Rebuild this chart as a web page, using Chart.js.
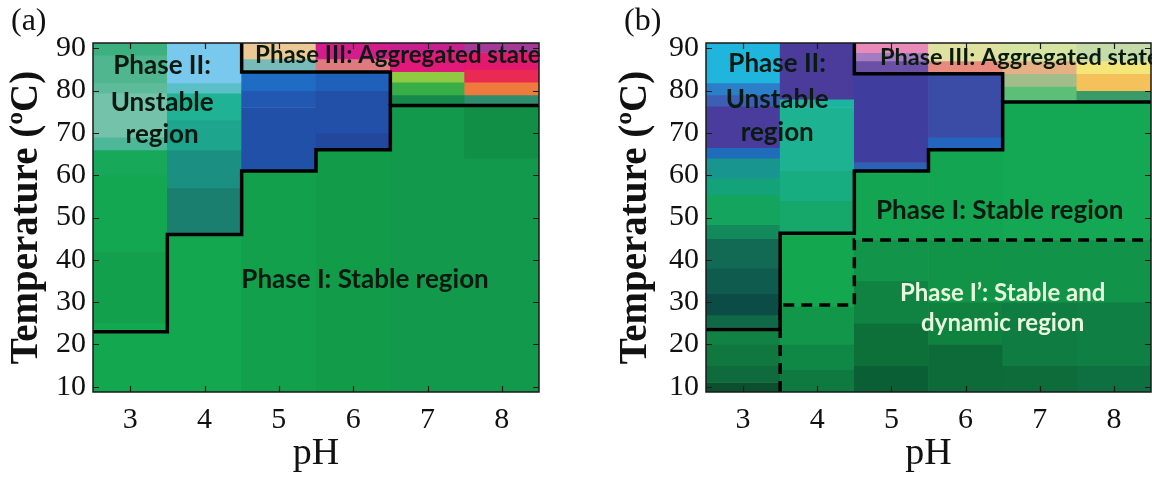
<!DOCTYPE html>
<html><head><meta charset="utf-8">
<script src="https://cdn.jsdelivr.net/npm/chart.js@4.4.1/dist/chart.umd.min.js"></script>
<style>
html,body{margin:0;padding:0;background:#fff;width:1152px;height:477px;overflow:hidden}
.p{position:absolute;top:0;width:576px;height:477px}
</style></head><body>
<div class="p" style="left:0"><canvas id="ca" width="576" height="477"></canvas></div>
<div class="p" style="left:576px"><canvas id="cb" width="576" height="477"></canvas></div>
<script>
// ---- data ----
const pH = [3, 4, 5, 6, 7, 8];
const xTicks = [3, 4, 5, 6, 7, 8];
const yTicks = [10, 20, 30, 40, 50, 60, 70, 80, 90];
const T_MIN = 8.75, T_MAX = 91.25, PH_MIN = 2.5, PH_MAX = 8.5;

// heat-map columns: [T low, T high, colour] per pH
const a3 = [[8.75,25,'#13a850'],[25,42,'#12a04c'],[42,60,'#14a752'],[60,66,'#18a85a'],[66,69,'#4db79a'],[69,79.4,'#74c2aa'],[79.4,81.8,'#5dbb9c'],[81.8,88.4,'#4fb690'],[88.4,91.25,'#3cb07e']];
const a4 = [[8.75,46,'#13a850'],[46,57,'#1a7f6f'],[57,66,'#1c8f83'],[66,73,'#1ea58e'],[73,79.4,'#1fb294'],[79.4,81.8,'#5bbfc8'],[81.8,91.25,'#79c8ee']];
const a5 = [[8.75,61,'#13a04d'],[61,64,'#1f52a6'],[64,76,'#2150a8'],[76,80,'#2258b2'],[80,84.4,'#1f6cc4'],[84.4,87.5,'#78bbb9'],[87.5,91.25,'#ebc995']];
const a6 = [[8.75,66,'#129b49'],[66,70,'#22489e'],[70,80,'#2250a8'],[80,84.4,'#1e60ba'],[84.4,87.5,'#de7a80'],[87.5,91.25,'#d41d8c']];
const a7 = [[8.75,76.5,'#13994b'],[76.5,79,'#168a4c'],[79,82,'#38ae48'],[82,84.5,'#8ecb42'],[84.5,89,'#e2187a'],[89,91.25,'#c81f8f']];
const a8 = [[8.75,64,'#13994b'],[64,76.5,'#128f47'],[76.5,79,'#2f8c6c'],[79,82,'#ee7b3d'],[82,85,'#ea2a52'],[85,89,'#e3196f'],[89,91.25,'#a33a97']];

const b3 = [[8.75,11,'#0b4f2f'],[11,15,'#0f6a3c'],[15,20,'#10773f'],[20,24,'#118244'],[24,27,'#0f6846'],[27,32,'#0c4c46'],[32,38,'#0f5b4e'],[38,45,'#126a55'],[45,48.3,'#138a5c'],[48.3,55.4,'#14a45e'],[55.4,59.3,'#14a27a'],[59.3,64,'#17958e'],[64,66.5,'#1f6cbb'],[66.5,76.3,'#4a3c9c'],[76.3,79,'#3c5fb5'],[79,81.8,'#2a7fc8'],[81.8,91.25,'#1fb5dc']];
const b4 = [[8.75,14,'#0e7a40'],[14,20,'#108845'],[20,29,'#11964a'],[29,46,'#13a750'],[46,54,'#15a86a'],[54,61,'#17ad80'],[61,76,'#1db392'],[76,78,'#1cb3a0'],[78,91.25,'#4b3c9c']];
const b5 = [[8.75,15,'#0b5f34'],[15,25,'#0e7039'],[25,35,'#108342'],[35,44.7,'#12954a'],[44.7,61,'#14a552'],[61,63,'#2a62b5'],[63,84,'#3f3d9e'],[84,87,'#6a51a6'],[87,89,'#a57cc1'],[89,91.25,'#e98ab8']];
const b6 = [[8.75,20,'#0d6b39'],[20,30,'#10823f'],[30,44.7,'#129448'],[44.7,66,'#14a552'],[66,69,'#2266bf'],[69,84,'#3b4ca7'],[84,87,'#e88a7e'],[87,91.25,'#dfe1a0']];
const b7 = [[8.75,15,'#0d6c3a'],[15,30,'#0f7c41'],[30,44.7,'#12934a'],[44.7,77.3,'#14a854'],[77.3,81,'#5cbf78'],[81,84,'#a2bd8a'],[84,87,'#e5b084'],[87,91.25,'#d6e4a2']];
const b8 = [[8.75,15,'#0e7040'],[15,30,'#107f43'],[30,44.7,'#12934a'],[44.7,77.3,'#14a854'],[77.3,80,'#3a9a68'],[80,84,'#f4c15a'],[84,87,'#f5e67a'],[87,91.25,'#c5dcaa']];

// phase boundaries (pH, T)
const aSolid1 = [[2.5,23],[3.5,23],[3.5,46],[4.5,46],[4.5,61],[5.5,61],[5.5,66],[6.5,66],[6.5,76.5],[8.5,76.5]];
const aSolid2 = [[4.5,91.25],[4.5,84.4],[6.5,84.4],[6.5,76.5]];
const bSolid1 = [[2.5,23.5],[3.5,23.5],[3.5,46.3],[4.5,46.3],[4.5,61],[5.5,61],[5.5,66],[6.5,66],[6.5,77.3],[8.5,77.3]];
const bSolid2 = [[4.5,91.25],[4.5,84],[6.5,84],[6.5,77.3]];
const bDashed = [[3.5,8.75],[3.5,29.3],[4.5,29.3],[4.5,44.7],[8.5,44.7]];

// annotation texts
const aTexts = [
  {t:'Phase II:', x:3.43, y:85.8, c:'#0b1a10', s:26},
  {t:'Unstable', x:3.43, y:77.1, c:'#0b1a10', s:26},
  {t:'region', x:3.43, y:69.5, c:'#0b1a10', s:26},
  {t:'Phase III: Aggregated state', x:6.60, y:88.4, c:'#0b1a10', s:24},
  {t:'Phase I: Stable region', x:6.16, y:35.2, c:'#0b1a10', s:26}
];
const bTexts = [
  {t:'Phase II:', x:3.46, y:86.3, c:'#0b1a10', s:26},
  {t:'Unstable', x:3.46, y:77.8, c:'#0b1a10', s:26},
  {t:'region', x:3.46, y:70.0, c:'#0b1a10', s:26},
  {t:'Phase III: Aggregated state', x:6.73, y:87.9, c:'#0b1a10', s:23.5},
  {t:'Phase I: Stable region', x:6.46, y:51.7, c:'#0b1a10', s:26},
  {t:'Phase I\u2019: Stable and', x:6.50, y:32.1, c:'#e8f6dc', s:24},
  {t:'dynamic region', x:6.50, y:25.0, c:'#e8f6dc', s:24}
];

// ---- drawing ----
const SERIF = '"Liberation Serif", "Times New Roman", serif';
const SANS = 'Lato, "Open Sans", sans-serif';

const decor = {
  id: 'decor',
  afterDatasetsDraw(chart, args, o) {
    const {ctx, chartArea: ca, scales: {x, y}} = chart;
    ctx.save();
    ctx.textAlign = 'center';
    ctx.textBaseline = 'middle';
    o.texts.forEach(d => {
      ctx.font = 'bold ' + d.s + 'px ' + SANS;
      ctx.fillStyle = d.c;
      ctx.fillText(d.t, x.getPixelForValue(d.x), y.getPixelForValue(d.y));
    });
    ctx.strokeStyle = '#1a1a1a';
    ctx.lineWidth = 1.5;
    ctx.strokeRect(ca.left, ca.top, ca.right - ca.left, ca.bottom - ca.top);
    ctx.lineWidth = 1.2;
    ctx.beginPath();
    xTicks.forEach(v => {
      const px = Math.round(x.getPixelForValue(v)) + 0.5;
      ctx.moveTo(px, ca.bottom); ctx.lineTo(px, ca.bottom - 6);
      ctx.moveTo(px, ca.top); ctx.lineTo(px, ca.top + 6);
    });
    yTicks.forEach(v => {
      const py = Math.round(y.getPixelForValue(v)) + 0.5;
      ctx.moveTo(ca.left, py); ctx.lineTo(ca.left + 6, py);
      ctx.moveTo(ca.right, py); ctx.lineTo(ca.right - 6, py);
    });
    ctx.stroke();
    ctx.fillStyle = '#111';
    ctx.font = '32px ' + SERIF;
    ctx.textAlign = 'left';
    ctx.fillText(o.letter, ca.left - 82, 22);
    ctx.restore();
  }
};

function lineDs(pts, dash) {
  return {
    type: 'line',
    data: pts.map(p => ({x: p[0], y: p[1]})),
    borderColor: '#000', borderWidth: 3.5, borderDash: dash || [],
    pointRadius: 0, fill: false, tension: 0, order: 0,
    borderJoinStyle: 'miter', borderCapStyle: 'butt', clip: 4
  };
}

function makeChart(id, cols, lines, dashed, texts, letter, padL, padR, titlePad) {
  const bars = [];
  cols.forEach((segs, i) => segs.forEach(s => bars.push({x: pH[i], y: [s[0], s[1]], c: s[2]})));
  const datasets = [{
    type: 'bar', data: bars, order: 1,
    backgroundColor: c => (c.raw ? c.raw.c : '#000'),
    borderWidth: 0, barPercentage: 1, categoryPercentage: 1, grouped: false
  }];
  lines.forEach(l => datasets.push(lineDs(l)));
  dashed.forEach(l => datasets.push(lineDs(l, [11, 7])));
  return new Chart(document.getElementById(id), {
    type: 'bar',
    data: {datasets},
    options: {
      responsive: false, animation: false, devicePixelRatio: 1,
      layout: {padding: {left: padL, right: padR, top: 43, bottom: 0}},
      plugins: {legend: {display: false}, tooltip: {enabled: false}, decor: {texts, letter}},
      scales: {
        x: {
          type: 'linear', min: PH_MIN, max: PH_MAX, offset: false,
          afterBuildTicks: s => { s.ticks = xTicks.map(v => ({value: v})); },
          afterFit: s => { s.height = 85; },
          grid: {display: false, drawTicks: false}, border: {display: false},
          ticks: {font: {family: SERIF, size: 30}, color: '#111', padding: 10},
          title: {display: true, text: 'pH', font: {family: SERIF, size: 38}, color: '#111', padding: {top: 0, bottom: 0}}
        },
        y: {
          type: 'linear', min: T_MIN, max: T_MAX,
          afterBuildTicks: s => { s.ticks = yTicks.map(v => ({value: v})); },
          afterFit: s => { s.width = 93; },
          grid: {display: false, drawTicks: false}, border: {display: false},
          ticks: {font: {family: SERIF, size: 30}, color: '#111', padding: 7},
          title: {display: true, text: 'Temperature (\u00baC)', font: {family: SERIF, size: 39, weight: 'bold'}, color: '#111', padding: {top: titlePad, bottom: 0}}
        }
      }
    },
    plugins: [decor]
  });
}

makeChart('ca', [a3, a4, a5, a6, a7, a8], [aSolid1, aSolid2], [], aTexts, '(a)', 0, 37, 4);
makeChart('cb', [b3, b4, b5, b6, b7, b8], [bSolid1, bSolid2], [bDashed], bTexts, '(b)', 37, 1, 0);
</script>
</body></html>
